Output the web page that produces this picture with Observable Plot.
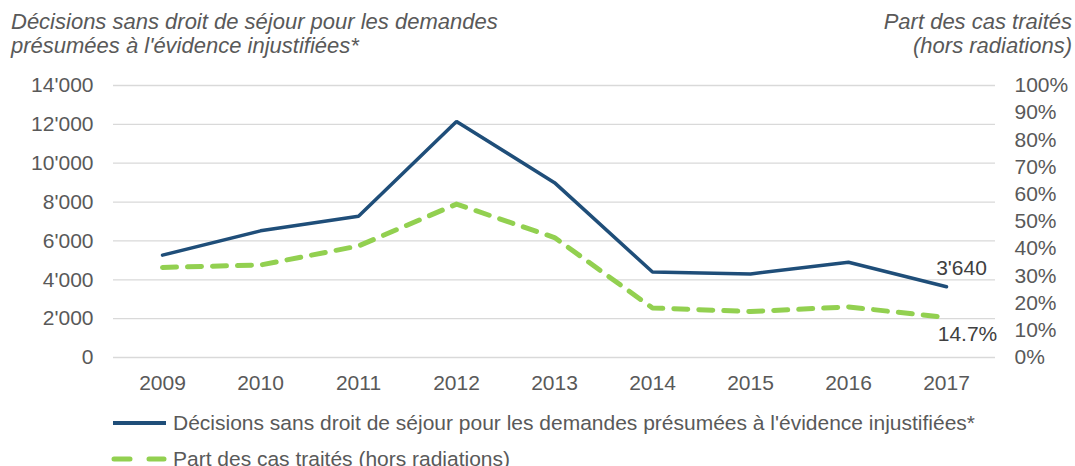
<!DOCTYPE html>
<html><head><meta charset="utf-8">
<script src="https://cdn.jsdelivr.net/npm/d3@7"></script>
<script src="https://cdn.jsdelivr.net/npm/@observablehq/plot@0.6"></script>
<style>
body{margin:0;background:#fff;font-family:"Liberation Sans",Arial,sans-serif;}
#wrap{position:relative;width:1075px;height:466px;overflow:hidden;}
.t{position:absolute;font-style:italic;color:#595959;font-size:22px;line-height:24px;white-space:nowrap;}
#legend{position:absolute;left:0;top:0;}
</style></head>
<body><div id="wrap">
<div class="t" style="left:11px;top:10px;">Décisions sans droit de séjour pour les demandes<br>présumées à l'évidence injustifiées*</div>
<div class="t" style="right:3px;top:10px;text-align:right;">Part des cas traités<br>(hors radiations)</div>
</div>
<script>
const years = ["2009","2010","2011","2012","2013","2014","2015","2016","2017"];
const decisions = [5270, 6520, 7270, 12150, 9000, 4400, 4300, 4900, 3640];
const shares = [33.1, 34.0, 41.0, 56.4, 44.1, 18.2, 16.9, 18.6, 14.7];
const leftTicks = [0, 2000, 4000, 6000, 8000, 10000, 12000, 14000];
const rightTicks = [0, 10, 20, 30, 40, 50, 60, 70, 80, 90, 100];
const seriesNames = ["Décisions sans droit de séjour pour les demandes présumées à l'évidence injustifiées*", "Part des cas traités (hors radiations)"];
const labelLast = ["3'640", "14.7%"];

const YMAX = 14000;
const blue = "#1F4E79", green = "#92D050", grey = "#595959";
const dataA = years.map((y,i)=>({year:y, v:decisions[i]}));
const dataB = years.map((y,i)=>({year:y, v:shares[i]/100*YMAX, p:shares[i]}));
const fmt = d => d===0 ? "0" : d3.format(",")(d).replace(/,/g,"'");
const FS = 21;

const chart = Plot.plot({
  width:1075, height:466,
  marginTop:85, marginBottom:109, marginLeft:113, marginRight:80,
  style:{fontFamily:"'Liberation Sans', Arial, sans-serif", fontSize:FS+"px", color:grey, background:"transparent"},
  x:{type:"point", domain:years, padding:0.5},
  y:{domain:[0,YMAX]},
  marks:[
    Plot.gridY(leftTicks, {stroke:"#d9d9d9", strokeOpacity:1, strokeWidth:1.3}),
    Plot.axisY(leftTicks, {anchor:"left", tickSize:0, tickPadding:20, tickFormat:fmt, label:null, fill:grey, fontSize:FS}),
    Plot.axisY(rightTicks.map(d=>d/100*YMAX), {anchor:"right", tickSize:0, tickPadding:19, tickFormat:d=>Math.round(d/YMAX*100)+"%", label:null, fill:grey, fontSize:FS}),
    Plot.axisX({tickSize:0, tickPadding:18, label:null, fill:grey, fontSize:FS}),
    Plot.line(dataB, {x:"year", y:"v", stroke:green, strokeWidth:5, strokeDasharray:"14,11", strokeLinecap:"round"}),
    Plot.line(dataA, {x:"year", y:"v", stroke:blue, strokeWidth:3.5, strokeLinejoin:"miter"}),
    Plot.text([dataA[8]], {x:"year", y:"v", text:()=>labelLast[0], dx:15, dy:-19, fill:"#404040", fontSize:FS}),
    Plot.text([dataB[8]], {x:"year", y:"v", text:()=>labelLast[1], dx:21, dy:17, fill:"#404040", fontSize:FS})
  ]
});
const wrap = document.getElementById("wrap");
wrap.insertBefore(chart, wrap.firstChild);
chart.style.position="absolute";chart.style.left="0";chart.style.top="0";

// legend
const ns="http://www.w3.org/2000/svg";
const lg=document.createElementNS(ns,"svg");
lg.setAttribute("id","legend");lg.setAttribute("width",1075);lg.setAttribute("height",466);
const items=[{y:423,stroke:blue,w:4,dash:null,len:802},{y:459,stroke:green,w:5,dash:"16,19",len:337}];
items.forEach((it,i)=>{
  const l=document.createElementNS(ns,"line");
  l.setAttribute("x1",113);l.setAttribute("x2",166);l.setAttribute("y1",it.y);l.setAttribute("y2",it.y);
  l.setAttribute("stroke",it.stroke);l.setAttribute("stroke-width",it.w);
  if(it.dash){l.setAttribute("stroke-dasharray",it.dash);l.setAttribute("stroke-linecap","round");l.setAttribute("x1",114);l.setAttribute("x2",164);}
  lg.appendChild(l);
  const t=document.createElementNS(ns,"text");
  t.setAttribute("x",173);t.setAttribute("y",it.y+7);
  t.setAttribute("font-size",20.5);t.setAttribute("fill",grey);
  t.setAttribute("font-family","'Liberation Sans', Arial, sans-serif");
  t.setAttribute("textLength",it.len);t.setAttribute("lengthAdjust","spacingAndGlyphs");
  t.textContent=seriesNames[i];
  lg.appendChild(t);
});
wrap.appendChild(lg);
</script>
</body></html>
